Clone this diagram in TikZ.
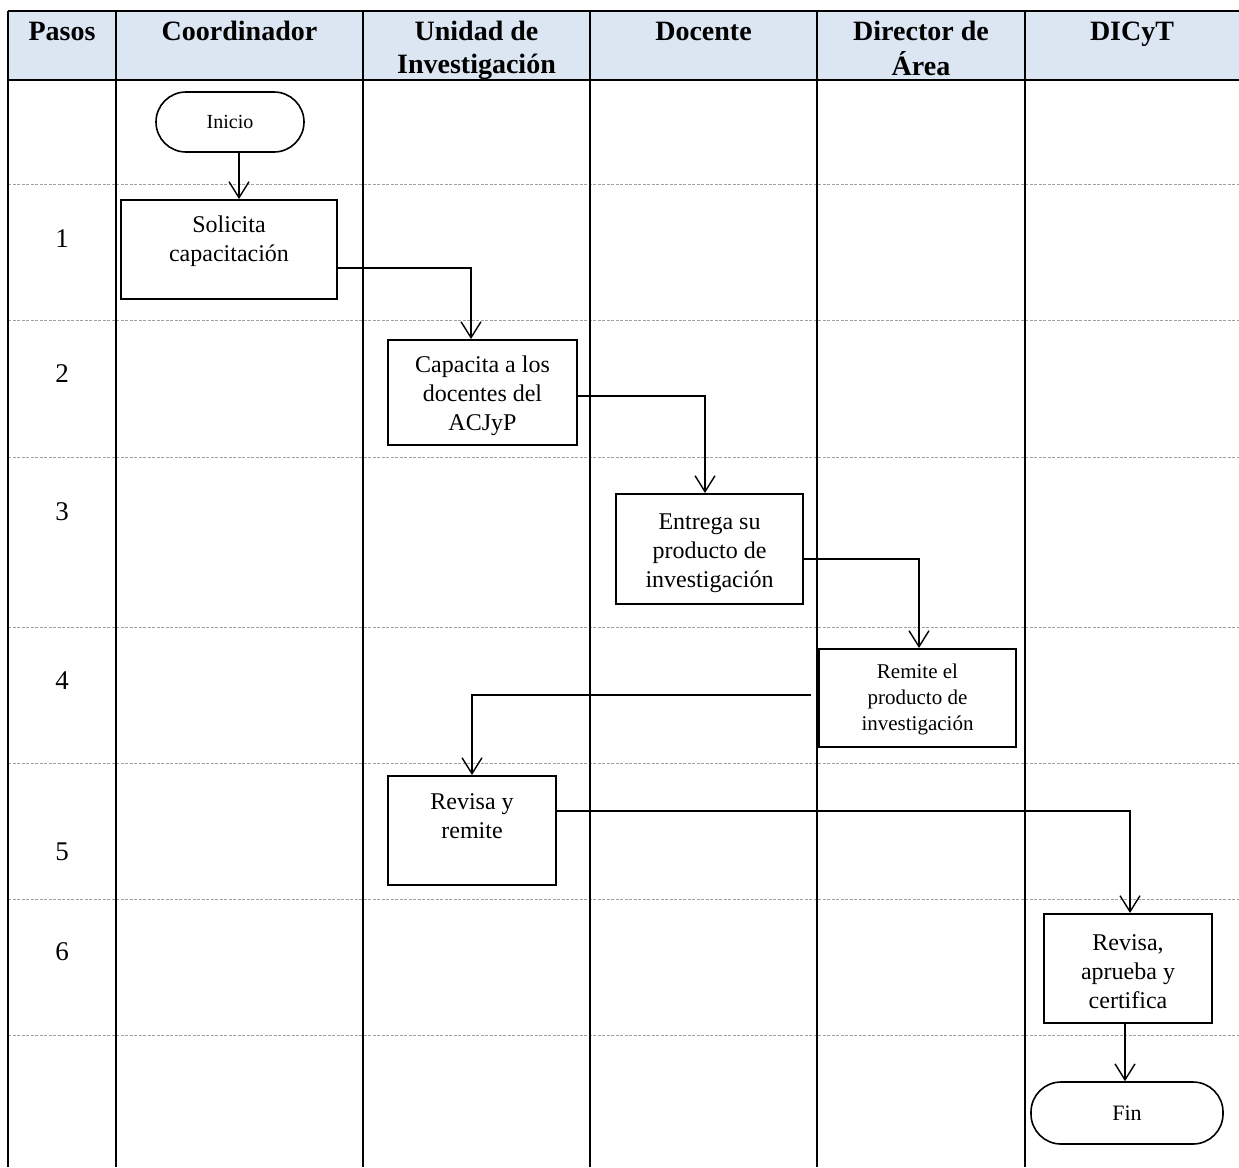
\documentclass[tikz,border=0pt]{standalone}
\usepackage{fontspec}
\setmainfont{Liberation Serif}
\usetikzlibrary{arrows.meta}
\definecolor{hdrblue}{RGB}{220,230,242}
\begin{document}
\begin{tikzpicture}[x=1pt,y=-1pt,
  lane/.style={line width=2pt},
  rowsep/.style={draw=gray!75, line width=0.9pt, dash pattern=on 3pt off 1.5pt},
  frame/.style={line width=2.6pt},
  box/.style={draw, line width=2pt, rectangle, inner sep=0pt},
  term/.style={draw, line width=1.6pt, rectangle, rounded corners=30pt, inner sep=0pt},
  arr/.style={line width=1.4pt, -{Straight Barb[length=16pt,width=20pt,line width=1.4pt]}},
  link/.style={line width=1.4pt},
  hdr/.style={inner sep=0pt, align=center, anchor=north, font=\fontsize{28}{33}\selectfont\bfseries},
  txt/.style={inner sep=0pt, align=center, anchor=north, font=\fontsize{24}{29}\selectfont},
  smalltxt/.style={inner sep=0pt, align=center, anchor=north, font=\fontsize{21}{26}\selectfont},
  num/.style={inner sep=0pt, anchor=base, font=\fontsize{27}{32}\selectfont}]
\useasboundingbox (0,0) rectangle (1239,1167);

% header band
\fill[hdrblue] (8,11) rectangle (1239,80);

% step separators
\foreach \yy in {184,320,457,627,763,899,1035}
  \draw[rowsep] (8,\yy) -- (1239,\yy);

% swimlane borders
\foreach \xx in {8,116,363,590,817,1025}
  \draw[lane] (\xx,11) -- (\xx,1167);
\draw[frame] (8,11) -- (1239,11);
\draw[frame] (8,80) -- (1239,80);

% column titles
\node[hdr] (hpasos) at (62,17) {\strut Pasos};
\node[hdr] (hcoord) at (239.5,17) {\strut Coordinador};
\node[hdr] (hunidad) at (476.5,17) {\strut Unidad de\\Investigación};
\node[hdr] (hdocente) at (703.5,17) {\strut Docente};
\node[hdr] (hdirector) at (921,17) {\strut Director de\\Área};
\node[hdr] (hdicyt) at (1132,17) {\strut DICyT};

% step numbers
\node[num] (n1) at (62,247) {1};
\node[num] (n2) at (62,382) {2};
\node[num] (n3) at (62,520) {3};
\node[num] (n4) at (62,689) {4};
\node[num] (n5) at (62,860) {5};
\node[num] (n6) at (62,960) {6};

% flow elements
\node[term, minimum width=148pt, minimum height=60pt, font=\fontsize{20}{24}\selectfont] (ini) at (230,122) {Inicio};
\node[box, minimum width=216pt, minimum height=99pt] (sol) at (229,249.5) {};
\node[box, minimum width=189pt, minimum height=105pt] (cap) at (482.5,392.5) {};
\node[box, minimum width=187pt, minimum height=110pt] (ent) at (709.5,549) {};
\node[box, minimum width=197pt, minimum height=98pt] (rem) at (917.5,698) {};
\node[box, minimum width=168pt, minimum height=109pt] (rev) at (472,830.5) {};
\node[box, minimum width=168pt, minimum height=109pt] (cer) at (1128,968.5) {};
\node[term, minimum width=192pt, minimum height=62pt, font=\fontsize{22}{26}\selectfont] (fin) at (1127,1113) {Fin};

% box captions
\node[txt] (solt) at (229,211.7) {\strut Solicita\\capacitación};
\node[txt] (capt) at (482.5,351.7) {\strut Capacita a los\\docentes del\\ACJyP};
\node[txt] (entt) at (709.5,508.7) {\strut Entrega su\\producto de\\investigación};
\node[smalltxt] (remt) at (917.5,659.8) {\strut Remite el\\producto de\\investigación};
\node[txt] (revt) at (472,788.7) {\strut Revisa y\\remite};
\node[txt] (cert) at (1128,929.7) {\strut Revisa,\\aprueba y\\certifica};

% connectors
\draw[arr] ([xshift=9pt]ini.south) -- ([xshift=9pt]ini.south |- sol.north);
\draw[arr] ([yshift=-18.5pt]sol.east) -| ([xshift=-11.5pt]cap.north);
\draw[arr] ([yshift=-3.5pt]cap.east) -| ([xshift=-4.5pt]ent.north);
\draw[arr] ([yshift=-10pt]ent.east) -| ([xshift=1.5pt]rem.north);
\coordinate (remout) at ([xshift=-7pt,yshift=3pt]rem.west);
\draw[arr] (remout) -| (rev.north);
\draw[arr] ([yshift=19.5pt]rev.east) -| ([xshift=2pt]cer.north);
\draw[arr] ([xshift=-3pt]cer.south) -- ([xshift=-3pt]cer.south |- fin.north);
\end{tikzpicture}
\end{document}
